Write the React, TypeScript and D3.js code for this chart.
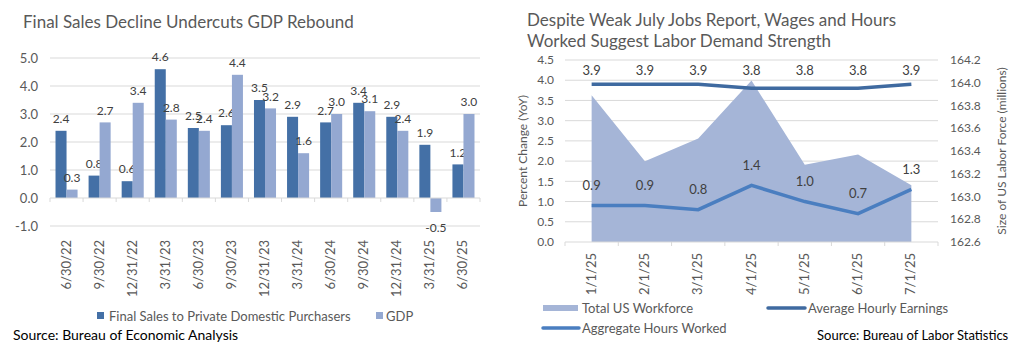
import React from "react";
import * as d3 from "d3";

const quarters = ["6/30/22","9/30/22","12/31/22","3/31/23","6/30/23","9/30/23","12/31/23","3/31/24","6/30/24","9/30/24","12/31/24","3/31/25","6/30/25"];
const finalSales = [2.4,0.8,0.6,4.6,2.5,2.6,3.5,2.9,2.7,3.4,2.9,1.9,1.2];
const gdp = [0.3,2.7,3.4,2.8,2.4,4.4,3.2,1.6,3.0,3.1,2.4,-0.5,3.0];
const leftTicks = [-1,0,1,2,3,4,5];

const months = ["1/1/25","2/1/25","3/1/25","4/1/25","5/1/25","6/1/25","7/1/25"];
const workforce = [163.89,163.31,163.51,164.02,163.28,163.37,163.10];
const hourlyEarnings = [3.9,3.9,3.9,3.8,3.8,3.8,3.9];
const hoursWorked = [0.9,0.9,0.8,1.4,1.0,0.7,1.3];
const pctTicks = [0,0.5,1,1.5,2,2.5,3,3.5,4,4.5];
const laborTicks = [162.6,162.8,163.0,163.2,163.4,163.6,163.8,164.0,164.2];

const FONT = "Lato, 'Open Sans', sans-serif";
const DARK = "#4470A6";
const LIGHT = "#94A8D1";
const AREA = "#A5B5D7";
const LINE1 = "#3F6AA0";
const LINE2 = "#4A7EC0";
const GRID = "#D9D9D9";
const TXT = "#595959";
const LBL = "#404040";

function LeftChart() {
  const x0 = d3.scaleBand().domain(quarters).range([50, 480]).paddingInner(0).paddingOuter(0);
  const x1 = d3.scaleBand().domain(["fs", "gdp"]).range([0, x0.bandwidth()]).paddingInner(0).paddingOuter(0.5);
  const y = d3.scaleLinear().domain([-1, 5]).range([226, 58]);
  const bw = x1.bandwidth();
  return (
    <g>
      <text x={23} y={28} fontSize={17} fill={TXT}>Final Sales Decline Undercuts GDP Rebound</text>
      {leftTicks.map((t) => (
        <g key={t}>
          {t !== 0 && <line x1={50} x2={480} y1={y(t)} y2={y(t)} stroke={GRID} strokeWidth={1} />}
          <text x={38} y={y(t)} dy="0.35em" textAnchor="end" fontSize={13} fill={TXT}>{t.toFixed(1)}</text>
        </g>
      ))}
      {quarters.map((q, i) => {
        const cx = x0(q)!;
        const series = [
          { v: finalSales[i], c: DARK, k: "fs" },
          { v: gdp[i], c: LIGHT, k: "gdp" },
        ];
        return (
          <g key={q}>
            {series.map((s) => {
              const bx = cx + x1(s.k)!;
              const top = Math.min(y(s.v), y(0));
              const h = Math.abs(y(s.v) - y(0));
              const ly = s.v >= 0 ? y(s.v) - 12 : y(s.v) + 16;
              return (
                <g key={s.k}>
                  <rect x={bx} y={top} width={bw} height={h} fill={s.c} />
                  <text x={bx + bw / 2} y={ly} dy="0.35em" textAnchor="middle" fontSize={12} fill={LBL}>{s.v.toFixed(1)}</text>
                </g>
              );
            })}
          </g>
        );
      })}
      <line x1={50} x2={480} y1={y(0)} y2={y(0)} stroke={GRID} strokeWidth={1} />
      {d3.range(quarters.length + 1).map((i) => {
        const xx = 50 + i * x0.step();
        return <line key={i} x1={xx} x2={xx} y1={y(0)} y2={y(0) + 4} stroke={GRID} />;
      })}
      {quarters.map((q) => {
        const cx = x0(q)! + x0.bandwidth() / 2;
        return (
          <text key={q} transform={`translate(${cx + 4},240) rotate(-90)`} textAnchor="end" fontSize={13} fill={TXT}>{q}</text>
        );
      })}
      <rect x={97} y={312} width={7} height={7} fill={DARK} />
      <text x={109} y={316} dy="0.35em" fontSize={13} fill={TXT}>Final Sales to Private Domestic Purchasers</text>
      <rect x={376} y={312} width={7} height={7} fill={LIGHT} />
      <text x={386} y={316} dy="0.35em" fontSize={13} fill={TXT}>GDP</text>
      <text x={13} y={335} dy="0.35em" fontSize={14} fill="#000">Source:  Bureau of Economic Analysis</text>
    </g>
  );
}

function RightChart() {
  const x = d3.scaleBand().domain(months).range([565, 938]);
  const yL = d3.scaleLinear().domain([0, 4.5]).range([242, 60]);
  const yR = d3.scaleLinear().domain([162.6, 164.2]).range([242, 60]);
  const cx = (m: string) => x(m)! + x.bandwidth() / 2;
  const area = d3.area<number>().x((_, i) => cx(months[i])).y0(yR(162.6)).y1((d) => yR(d));
  const line1 = d3.line<number>().x((_, i) => cx(months[i])).y((d) => yL(d));
  return (
    <g>
      <text x={527} y={20} dy="0.35em" fontSize={17} fill={TXT}>Despite Weak July Jobs Report, Wages and Hours</text>
      <text x={527} y={41} dy="0.35em" fontSize={17} fill={TXT}>Worked Suggest Labor Demand Strength</text>
      {pctTicks.map((t) => (
        <g key={t}>
          {t !== 0 && <line x1={565} x2={938} y1={yL(t)} y2={yL(t)} stroke={GRID} />}
          <text x={554} y={yL(t)} dy="0.35em" textAnchor="end" fontSize={12} fill={TXT}>{t.toFixed(1)}</text>
        </g>
      ))}
      {laborTicks.map((t) => (
        <text key={t} x={950} y={yR(t)} dy="0.35em" fontSize={12} fill={TXT}>{t.toFixed(1)}</text>
      ))}
      <path d={area(workforce) || ""} fill={AREA} />
      <line x1={565} x2={938} y1={242} y2={242} stroke={GRID} />
      {d3.range(months.length + 1).map((i) => {
        const xx = 565 + i * x.step();
        return <line key={i} x1={xx} x2={xx} y1={242} y2={246} stroke={GRID} />;
      })}
      <path d={line1(hourlyEarnings) || ""} fill="none" stroke={LINE1} strokeWidth={3.5} />
      <path d={line1(hoursWorked) || ""} fill="none" stroke={LINE2} strokeWidth={3.5} />
      {months.map((m, i) => (
        <g key={m}>
          <text x={cx(m)} y={70.5} dy="0.35em" textAnchor="middle" fontSize={13} fill={LBL}>{hourlyEarnings[i].toFixed(1)}</text>
          <text x={cx(m)} y={yL(hoursWorked[i]) - 20} dy="0.35em" textAnchor="middle" fontSize={13} fill={LBL}>{hoursWorked[i].toFixed(1)}</text>
          <text transform={`translate(${cx(m) + 4},253) rotate(-90)`} textAnchor="end" fontSize={13} fill={TXT}>{m}</text>
        </g>
      ))}
      <text transform="translate(527,151) rotate(-90)" textAnchor="middle" fontSize={12} fill={TXT}>Percent Change (YoY)</text>
      <text transform="translate(1006,151) rotate(-90)" textAnchor="middle" fontSize={12} fill={TXT}>Size of US Labor Force (millions)</text>
      <rect x={543} y={305} width={35} height={6} fill={AREA} />
      <text x={582} y={308} dy="0.35em" fontSize={13} fill={TXT}>Total US Workforce</text>
      <line x1={768} x2={805} y1={308} y2={308} stroke={LINE1} strokeWidth={3.5} strokeLinecap="round" />
      <text x={808} y={308} dy="0.35em" fontSize={13} fill={TXT}>Average Hourly Earnings</text>
      <line x1={543} x2={579} y1={328} y2={328} stroke={LINE2} strokeWidth={3.5} strokeLinecap="round" />
      <text x={582} y={328} dy="0.35em" fontSize={13} fill={TXT}>Aggregate Hours Worked</text>
      <text x={817} y={335} dy="0.35em" fontSize={13} fill="#000">Source: Bureau of Labor Statistics</text>
    </g>
  );
}

export default function App() {
  return (
    <svg width={1024} height={351} style={{ position: "absolute", left: 0, top: 0, fontFamily: FONT, background: "#fff" }}>
      <rect x={0} y={0} width={1024} height={351} fill="#fff" />
      <LeftChart />
      <RightChart />
    </svg>
  );
}
